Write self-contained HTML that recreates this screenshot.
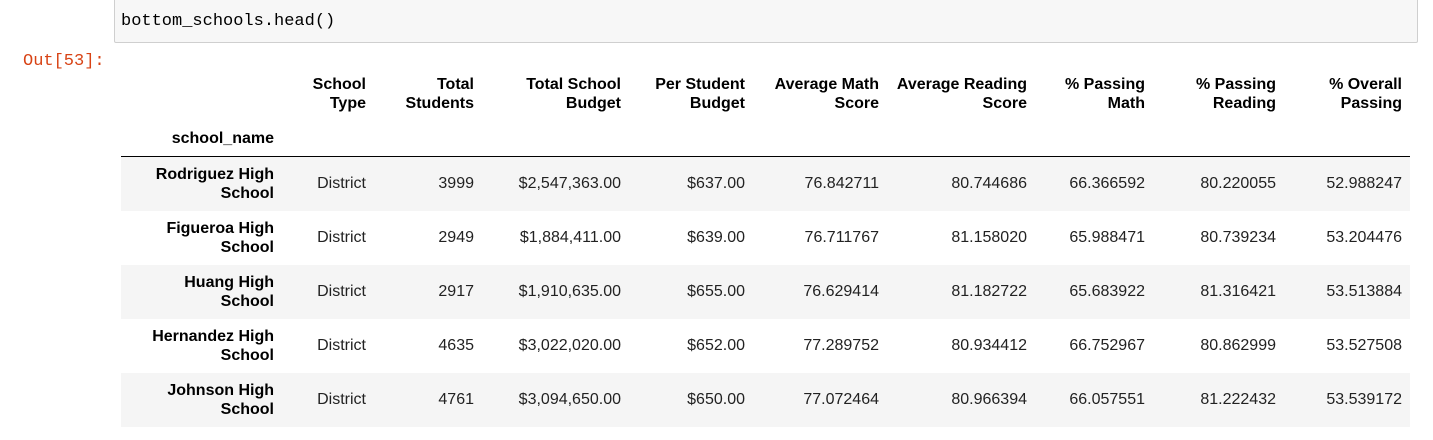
<!DOCTYPE html>
<html><head><meta charset="utf-8"><style>
body{margin:0;width:1433px;height:440px;background:#fff;position:relative;overflow:hidden;font-family:"Liberation Sans",Arial,sans-serif;font-size:16px;color:#000}
.code{position:absolute;left:114px;top:-4px;width:1302px;height:45px;background:#f7f7f7;border:1px solid #cfcfcf;border-radius:2px}
.code span{position:absolute;left:6px;top:15px;font-family:"Liberation Mono","DejaVu Sans Mono",monospace;font-size:17px;color:#000}
.out{position:absolute;left:23px;top:52px;font-family:"Liberation Mono","DejaVu Sans Mono",monospace;font-size:17px;color:#d84315}
.c{position:absolute;text-align:right;line-height:19px;white-space:nowrap}
.d{color:#222}
.h{font-weight:bold}
.row{position:absolute;left:121px;width:1289px;height:54px}
.line{position:absolute;left:121px;top:156px;width:1289px;height:1px;background:#000}
</style></head><body>
<div class="code"><span>bottom_schools.head()</span></div>
<div class="out">Out[53]:</div>
<div class="line"></div>
<div id="t"></div>
<script>
const rights=[274,366,474,621,745,879,1027,1145,1276,1402];
const headers=["","School<br>Type","Total<br>Students","Total School<br>Budget","Per Student<br>Budget","Average Math<br>Score","Average Reading<br>Score","% Passing<br>Math","% Passing<br>Reading","% Overall<br>Passing"];
const names=["Rodriguez High<br>School","Figueroa High<br>School","Huang High<br>School","Hernandez High<br>School","Johnson High<br>School"];
const rows=[
["District","3999","$2,547,363.00","$637.00","76.842711","80.744686","66.366592","80.220055","52.988247"],
["District","2949","$1,884,411.00","$639.00","76.711767","81.158020","65.988471","80.739234","53.204476"],
["District","2917","$1,910,635.00","$655.00","76.629414","81.182722","65.683922","81.316421","53.513884"],
["District","4635","$3,022,020.00","$652.00","77.289752","80.934412","66.752967","80.862999","53.527508"],
["District","4761","$3,094,650.00","$650.00","77.072464","80.966394","66.057551","81.222432","53.539172"]];
const t=document.getElementById('t');
function cell(html,right,top,cls){const d=document.createElement('div');d.className='c '+cls;d.innerHTML=html;d.style.right=(1433-right)+'px';d.style.top=top+'px';


t.appendChild(d);}
headers.forEach((h,i)=>{if(h){cell(h,rights[i],75,'h');}});
cell('school_name',rights[0],129,'h');
rows.forEach((r,ri)=>{const top=157+ri*54;
const bg=document.createElement('div');bg.className='row';bg.style.top=top+'px';bg.style.background=ri%2==0?'#f5f5f5':'#fff';


t.appendChild(bg);
cell(names[ri],rights[0],top+8,'h');
r.forEach((v,ci)=>cell(v,rights[ci+1],top+17,'d'));});
</script>
</body></html>
